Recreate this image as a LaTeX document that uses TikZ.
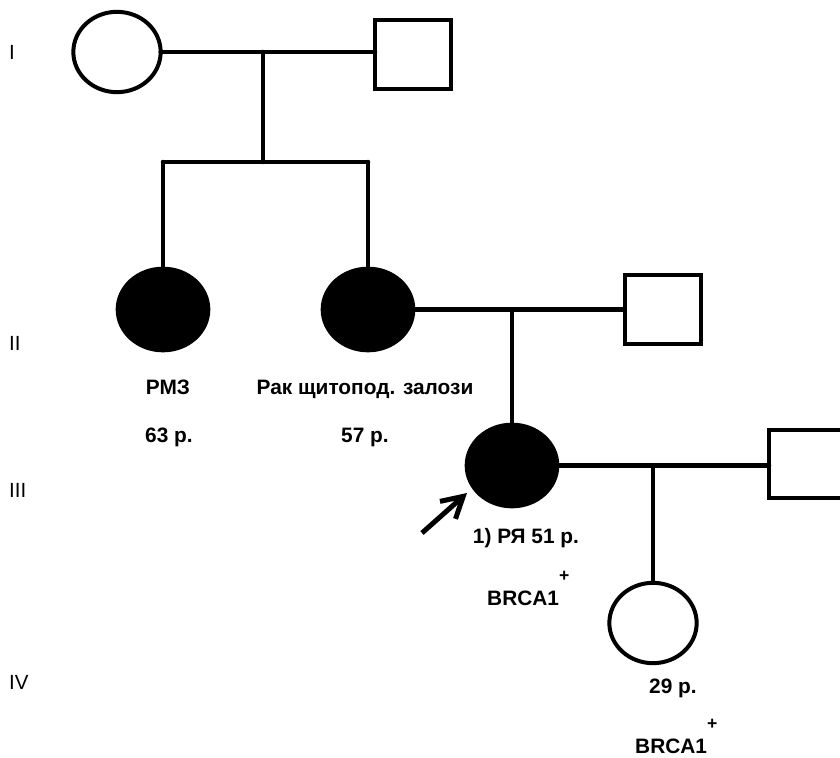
\documentclass[tikz,border=0pt]{standalone}
\usepackage{fontspec}
\setmainfont{Liberation Sans}
\usetikzlibrary{shapes.geometric,arrows.meta}

\tikzset{
    female/.style={ellipse, draw, line width=0.12cm, minimum width=2.62cm, minimum height=2.41cm, inner sep=0pt, outer sep=0pt},
    affected/.style={female, fill=black, minimum width=2.72cm, minimum height=2.45cm},
    male/.style={rectangle, draw, line width=0.12cm, minimum width=2.28cm, minimum height=2.06cm, inner sep=0pt, outer sep=0pt},
    link/.style={line width=0.135cm, line cap=round},
    proband/.style={line width=0.15cm, -{Straight Barb[length=0.62cm, width=0.7cm]}},
    lbl/.style={font=\fontsize{17.8}{21}\selectfont\bfseries, inner sep=0pt, anchor=base},
    gen/.style={font=\fontsize{17.5}{21}\selectfont, inner sep=0pt, anchor=west},
}

\begin{document}
\begin{tikzpicture}[x=0.03cm, y=-0.03cm]
        \clip (0,0) rectangle (840,758);

        % generations
        \node[gen] (gI) at (9,52) {I};
        \node[gen] (gII) at (9,343) {II};
        \node[gen] (gIII) at (9,490) {III};
        \node[gen] (gIV) at (9,682) {IV};

        % people
        \node[female] (mI) at (117,52) {};
        \node[male] (fI) at (413,54.5) {};
        \node[affected] (d1) at (163,309.5) {};
        \node[affected] (d2) at (368,309.5) {};
        \node[male] (fII) at (662.5,309.5) {};
        \node[affected] (pIII) at (512,465.5) {};
        \node[male] (fIII) at (807,464) {};
        \node[female] (dIV) at (653,623) {};

        \coordinate (mid1) at (263,52);
        \coordinate (sib1) at (263,162);
        \coordinate (mid2) at (512,309.5);
        \coordinate (mid3) at (653,465.5);

        \draw[link] (mI.east) -- (mI.east -| fI.west);
        \draw[link] (mid1) -- (sib1);
        \draw[link] (d1 |- sib1) -- (d2 |- sib1);
        \draw[link] (d1 |- sib1) -- (d1);
        \draw[link] (d2 |- sib1) -- (d2);

        \draw[link] (d2.east) -- (d2.east -| fII.west);
        \draw[link] (mid2) -- (pIII);

        \draw[link] (pIII.east) -- (pIII.east -| fIII.west);
        \draw[link] (mid3) -- (dIV);

        % labels
        \node[lbl] (t1) at (168,394) {РМЗ};
        \node[lbl] (a1) at (169,442) {63 р.};
        \node[lbl] (t2) at (365,394) {Рак щитопод. залози};
        \node[lbl] (a2) at (365,442) {57 р.};
        \node[lbl] (t3) at (526,543) {1) РЯ 51 р.};
        \node[lbl, anchor=base west] (b3) at (487,605) {BRCA1\raisebox{0.7cm}{\fontsize{15}{17}\selectfont +}};
        \node[lbl] (a4) at (673,693) {29 р.};
        \node[lbl, anchor=base west] (b4) at (635,753) {BRCA1\raisebox{0.7cm}{\fontsize{15}{17}\selectfont +}};

        %\node at (512,560) {\textbf{\Large P}};

        \coordinate (arrTail) at (422,533);
        \coordinate (arrHead) at (467,493);
        \draw[proband] (arrTail) -- (arrHead);
    \end{tikzpicture}
\end{document}
